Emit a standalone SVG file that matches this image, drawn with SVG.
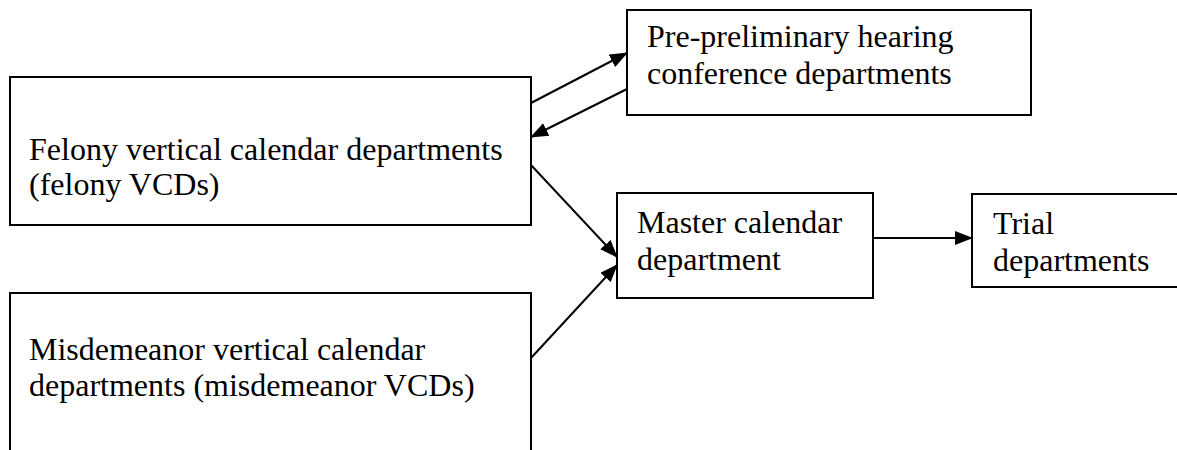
<svg xmlns="http://www.w3.org/2000/svg" width="1177" height="450" viewBox="0 0 1177 450">
  <style>
    .box { fill: #ffffff; stroke: #000000; stroke-width: 2; }
    .lbl { font-family: "Liberation Serif", "Times New Roman", serif; font-size: 32px; fill: #000000; }
    .conn { stroke: #000000; stroke-width: 2; fill: none; marker-end: url(#arrow); }
  </style>
  <defs>
    <marker id="arrow" markerUnits="userSpaceOnUse" markerWidth="18" markerHeight="14" refX="17" refY="7" orient="auto">
      <path d="M0,0 L18,7 L0,14 z" fill="#000000"/>
    </marker>
  </defs>
  <rect x="0" y="0" width="1177" height="450" fill="#ffffff"/>

  <g id="felony">
    <rect class="box" x="10" y="77" width="521" height="148"/>
    <text class="lbl" x="29" y="160">Felony vertical calendar departments</text>
    <text class="lbl" x="29" y="195">(felony VCDs)</text>
  </g>

  <g id="misdemeanor">
    <rect class="box" x="10" y="293" width="521" height="170"/>
    <text class="lbl" x="29" y="360">Misdemeanor vertical calendar</text>
    <text class="lbl" x="29" y="396">departments (misdemeanor VCDs)</text>
  </g>

  <g id="preprelim">
    <rect class="box" x="627" y="10" width="404" height="105"/>
    <text class="lbl" x="647" y="47">Pre-preliminary hearing</text>
    <text class="lbl" x="647" y="84">conference departments</text>
  </g>

  <g id="master">
    <rect class="box" x="617" y="193" width="256" height="105"/>
    <text class="lbl" x="637" y="233">Master calendar</text>
    <text class="lbl" x="637" y="270">department</text>
  </g>

  <g id="trial">
    <rect class="box" x="972" y="194" width="220" height="93"/>
    <text class="lbl" x="993" y="234">Trial</text>
    <text class="lbl" x="993" y="271">departments</text>
  </g>

  <g id="connectors">
    <line class="conn" x1="531" y1="103" x2="627" y2="53"/>
    <line class="conn" x1="627" y1="89" x2="531" y2="137"/>
    <line class="conn" x1="531" y1="165" x2="617" y2="257"/>
    <line class="conn" x1="531" y1="358" x2="617" y2="265"/>
    <line class="conn" x1="873" y1="238" x2="972" y2="238"/>
  </g>
</svg>
